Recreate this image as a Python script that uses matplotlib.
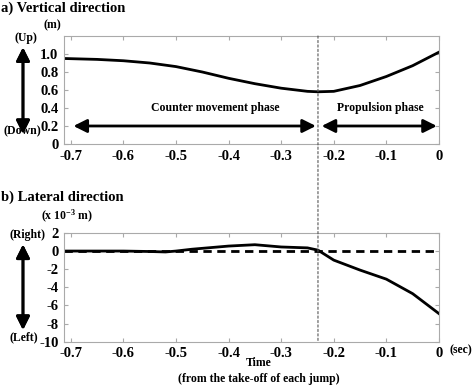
import matplotlib
matplotlib.use('Agg')
import matplotlib.pyplot as plt
from matplotlib.patches import ConnectionPatch

plt.rcParams['font.family'] = ['Liberation Serif', 'DejaVu Serif']
plt.rcParams['font.weight'] = 'bold'
plt.rcParams['axes.unicode_minus'] = False
plt.rcParams['mathtext.fontset'] = 'custom'
plt.rcParams['mathtext.rm'] = 'Liberation Serif:bold'
plt.rcParams['mathtext.default'] = 'rm'

# Vertical displacement (m)
t_vert = [-0.713, -0.65, -0.6, -0.55, -0.5, -0.45, -0.4, -0.35, -0.3,
          -0.25, -0.23, -0.2, -0.15, -0.1, -0.05, 0.0]
z_vert = [0.95, 0.94, 0.925, 0.90, 0.86, 0.80, 0.73, 0.67, 0.62,
          0.585, 0.58, 0.585, 0.65, 0.75, 0.87, 1.02]

# Lateral displacement (x 10^-3 m)
t_lat = [-0.713, -0.65, -0.6, -0.55, -0.52, -0.5, -0.47, -0.45, -0.4,
         -0.35, -0.3, -0.25, -0.23, -0.2, -0.15, -0.1, -0.05, 0.0]
y_lat = [0.0, 0.0, 0.0, -0.05, -0.1, 0.0, 0.2, 0.3, 0.55,
         0.7, 0.45, 0.35, 0.1, -1.0, -2.1, -3.1, -4.7, -6.9]

xticks = [-0.7, -0.6, -0.5, -0.4, -0.3, -0.2, -0.1, 0]
xticklabels = ['-0.7', '-0.6', '-0.5', '-0.4', '-0.3', '-0.2', '-0.1', '0']
takeoff_split = -0.23

fig = plt.figure(figsize=(4.74, 3.85), dpi=100)
ax1 = fig.add_axes([0.135, 0.626, 0.791, 0.2805])
ax2 = fig.add_axes([0.135, 0.1125, 0.791, 0.2825])


def style_axes(ax):
    for s in ax.spines.values():
        s.set_color('#aaaaaa')
        s.set_linewidth(0.8)
    ax.tick_params(direction='in', top=True, right=True, length=3,
                   color='#aaaaaa', labelsize=10.5, labelcolor='black', pad=4)
    ax.set_xlim(-0.713, 0)
    ax.set_xticks(xticks)
    ax.set_xticklabels(xticklabels)


# a) vertical
style_axes(ax1)
ax1.plot(t_vert, z_vert, color='black', lw=2)
ax1.set_ylim(0, 1.2)
ax1.set_yticks([0, 0.2, 0.4, 0.6, 0.8, 1.0])
ax1.set_yticklabels(['0', '0.2', '0.4', '0.6', '0.8', '1.0'])

arrow_kw = dict(arrowstyle='<|-|>', mutation_scale=20, lw=2, color='black',
                shrinkA=0, shrinkB=0)
ax1.annotate('', xy=(-0.695, 0.2), xytext=(-0.234, 0.2), arrowprops=arrow_kw)
ax1.annotate('', xy=(-0.223, 0.2), xytext=(-0.004, 0.2), arrowprops=arrow_kw)
ax1.text(-0.426, 0.4, 'Counter movement phase', ha='center', va='center',
         fontsize=8.5, fontweight='bold')
ax1.text(-0.112, 0.4, 'Propulsion phase', ha='center', va='center',
         fontsize=8.5, fontweight='bold')

# b) lateral
style_axes(ax2)
ax2.plot([-0.713, 0], [0, 0], color='black', lw=2, ls=(0, (3, 2)))
ax2.plot(t_lat, y_lat, color='black', lw=2)
ax2.set_ylim(-10, 2)
ax2.set_yticks([-10, -8, -6, -4, -2, 0, 2])

# take-off split line spanning both panels
con = ConnectionPatch(xyA=(takeoff_split, 1.2), coordsA=ax1.transData,
                      xyB=(takeoff_split, -10), coordsB=ax2.transData,
                      color='#555555', lw=0.8, ls=(0, (2, 2)))
fig.add_artist(con)

# side labels and direction arrows
fw = 'bold'
side_arrow = dict(arrowstyle='<|-|>', mutation_scale=20, lw=2, color='black',
                  shrinkA=0, shrinkB=0)
fig.text(0.002, 0.979, 'a) Vertical direction', fontsize=10.5, fontweight=fw,
         va='center', ha='left')
fig.text(0.11, 0.935, '(m)', fontsize=8.5, fontweight=fw, va='center', ha='center')
fig.text(0.055, 0.9, '(Up)', fontsize=8.5, fontweight=fw, va='center', ha='center')
fig.text(0.047, 0.66, '(Down)', fontsize=8.5, fontweight=fw, va='center', ha='center')
fig.add_artist(plt.annotate('', xy=(0.0485, 0.877), xytext=(0.0485, 0.652),
                            xycoords='figure fraction', textcoords='figure fraction',
                            arrowprops=side_arrow))

fig.text(0.002, 0.488, 'b) Lateral direction', fontsize=10.5, fontweight=fw,
         va='center', ha='left')
fig.text(0.141, 0.437, '(x 10$^{-3}$ m)', fontsize=8.5, fontweight=fw,
         va='center', ha='center')
fig.text(0.057, 0.39, '(Right)', fontsize=8.5, fontweight=fw, va='center', ha='center')
fig.text(0.05, 0.125, '(Left)', fontsize=8.5, fontweight=fw, va='center', ha='center')
fig.add_artist(plt.annotate('', xy=(0.0485, 0.365), xytext=(0.0485, 0.143),
                            xycoords='figure fraction', textcoords='figure fraction',
                            arrowprops=side_arrow))

fig.text(0.972, 0.089, '(sec)', fontsize=8.5, fontweight=fw, va='center', ha='center')
fig.text(0.545, 0.057, 'Time', fontsize=8.5, fontweight=fw, va='center', ha='center')
fig.text(0.545, 0.016, '(from the take-off of each jump)', fontsize=8.5,
         fontweight=fw, va='center', ha='center')

fig.savefig('out.png', dpi=100)
